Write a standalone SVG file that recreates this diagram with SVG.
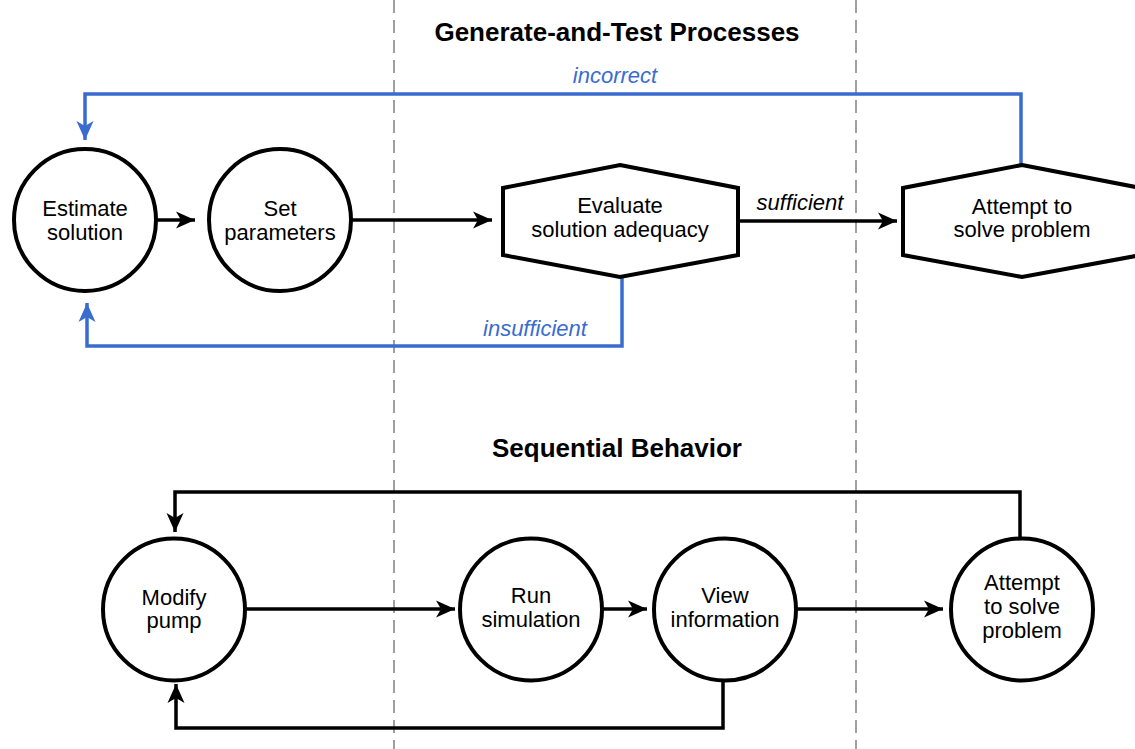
<svg xmlns="http://www.w3.org/2000/svg" width="1135" height="749" viewBox="0 0 1135 749">
<defs>
<style>
.bg{fill:#fff}
.node{fill:#fff;stroke:#000;stroke-width:4}
.t{font-family:"Liberation Sans",Arial,sans-serif;font-size:22px;fill:#000;text-anchor:middle}
.title{font-family:"Liberation Sans",Arial,sans-serif;font-size:26px;font-weight:bold;fill:#000;text-anchor:middle}
.lbl{font-family:"Liberation Sans",Arial,sans-serif;font-size:22px;font-style:italic;text-anchor:middle}
.blk{fill:none;stroke:#000;stroke-width:3.5}
.blu{fill:none;stroke:#3a6cd0;stroke-width:3.5}
.dash{stroke:#a0a0a0;stroke-width:2;stroke-dasharray:13 7}
</style>
<marker id="ak" markerUnits="userSpaceOnUse" markerWidth="24" markerHeight="20" viewBox="-20 -10 24 20" refX="0" refY="0" orient="auto">
<path d="M0,0 L-19,-8.5 L-14,0 L-19,8.5 z" fill="#000"/>
</marker>
<marker id="ab" markerUnits="userSpaceOnUse" markerWidth="24" markerHeight="20" viewBox="-20 -10 24 20" refX="0" refY="0" orient="auto">
<path d="M0,0 L-19,-8.5 L-14,0 L-19,8.5 z" fill="#3a6cd0"/>
</marker>
</defs>
<rect class="bg" x="0" y="0" width="1135" height="749"/>
<g id="dividers">
<line class="dash" x1="394" y1="0" x2="394" y2="749"/>
<line class="dash" x1="856" y1="0" x2="856" y2="749"/>
</g>
<g id="titles">
<text class="title" x="617" y="41">Generate-and-Test Processes</text>
<text class="title" x="617" y="457">Sequential Behavior</text>
</g>
<g id="connectors">
<line class="blk" x1="156" y1="220" x2="195" y2="220" marker-end="url(#ak)"/>
<line class="blk" x1="352" y1="220" x2="492" y2="220" marker-end="url(#ak)"/>
<line class="blk" x1="738" y1="221" x2="897" y2="221" marker-end="url(#ak)"/>
<polyline class="blu" points="1021,165 1021,94 85,94 85,140" marker-end="url(#ab)"/>
<polyline class="blu" points="622,277 622,346 87,346 87,303" marker-end="url(#ab)"/>
<line class="blk" x1="245" y1="609" x2="455" y2="609" marker-end="url(#ak)"/>
<line class="blk" x1="603" y1="609" x2="647" y2="609" marker-end="url(#ak)"/>
<line class="blk" x1="797" y1="609" x2="943" y2="609" marker-end="url(#ak)"/>
<polyline class="blk" points="1020,537 1020,492 175,492 175,532" marker-end="url(#ak)"/>
<polyline class="blk" points="723,682 723,728 176,728 176,684" marker-end="url(#ak)"/>
<text class="lbl" x="615" y="83" fill="#3a6cd0">incorrect</text>
<text class="lbl" x="535" y="336" fill="#3a6cd0">insufficient</text>
<text class="lbl" x="800" y="210" fill="#000">sufficient</text>
</g>
<g id="estimate">
<circle class="node" cx="85" cy="220" r="71"/>
<text class="t" x="85" y="216">Estimate</text>
<text class="t" x="85" y="240">solution</text>
</g>
<g id="setparams">
<circle class="node" cx="280" cy="220" r="71"/>
<text class="t" x="280" y="216">Set</text>
<text class="t" x="280" y="240">parameters</text>
</g>
<g id="evaluate">
<polygon class="node" points="620,165 738,188 738,255 620,277 503,255 503,188"/>
<text class="t" x="620" y="213">Evaluate</text>
<text class="t" x="620" y="237">solution adequacy</text>
</g>
<g id="attempt1">
<polygon class="node" points="1022,165 1141,188 1141,255 1022,277 903,255 903,188"/>
<text class="t" x="1022" y="214">Attempt to</text>
<text class="t" x="1022" y="237">solve problem</text>
</g>
<g id="modify">
<circle class="node" cx="174" cy="609.5" r="71"/>
<text class="t" x="174" y="605">Modify</text>
<text class="t" x="174" y="628">pump</text>
</g>
<g id="run">
<circle class="node" cx="531" cy="609.5" r="71"/>
<text class="t" x="531" y="603">Run</text>
<text class="t" x="531" y="627">simulation</text>
</g>
<g id="view">
<circle class="node" cx="725" cy="609.5" r="71"/>
<text class="t" x="725" y="603">View</text>
<text class="t" x="725" y="627">information</text>
</g>
<g id="attempt2">
<circle class="node" cx="1022" cy="609.5" r="71"/>
<text class="t" x="1022" y="590">Attempt</text>
<text class="t" x="1022" y="614">to solve</text>
<text class="t" x="1022" y="638">problem</text>
</g>
</svg>
